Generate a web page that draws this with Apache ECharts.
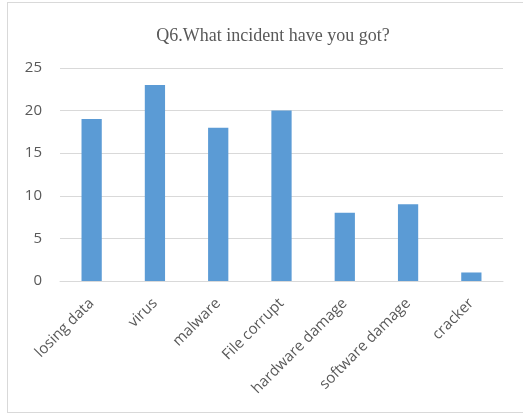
<!DOCTYPE html>
<html>
<head>
<meta charset="utf-8">
<script src="https://cdn.jsdelivr.net/npm/echarts@6/dist/echarts.min.js"></script>
<style>
  html, body { margin: 0; padding: 0; background: #fff; }
  #frame {
    position: absolute; left: 7px; top: 2px; width: 520px; height: 411px;
    border: 1px solid #d9d9d9; border-right: none; box-sizing: border-box;
  }
  #chart { position: absolute; left: 0; top: 0; width: 523px; height: 415px; }
</style>
</head>
<body>
<div id="frame"></div>
<div id="chart"></div>
<script>
// 类目与数值
const categories = ["losing data", "virus", "malware", "File corrupt", "hardware damage", "software damage", "cracker"];
const counts = [19, 23, 18, 20, 8, 9, 1];

const chart = echarts.init(document.getElementById("chart"));
chart.setOption({
  animation: false,
  title: {
    text: "Q6.What incident have you got?",
    left: 268,
    top: 22,
    textAlign: "center",
    textStyle: {
      fontFamily: "Liberation Serif",
      fontWeight: "normal",
      fontSize: 18,
      color: "#595959",
    },
  },
  grid: { left: 60, right: 20, top: 68, bottom: 134 },
  xAxis: {
    type: "category",
    data: categories,
    axisLine: { lineStyle: { color: "#d9d9d9", width: 1 } },
    axisTick: { show: false },
    axisLabel: {
      rotate: 45,
      interval: 0,
      margin: 20,
      color: "#595959",
      fontFamily: "Open Sans",
      fontSize: 15,
    },
  },
  yAxis: {
    type: "value",
    min: 0,
    max: 25,
    interval: 5,
    axisLine: { show: false },
    axisTick: { show: false },
    splitLine: { lineStyle: { color: "#d9d9d9", width: 1 } },
    axisLabel: {
      margin: 18,
      color: "#595959",
      fontFamily: "Open Sans",
      fontSize: 15,
    },
  },
  series: [
    {
      type: "bar",
      data: counts,
      barWidth: "32%",
      itemStyle: { color: "#5b9bd5" },
    },
  ],
});
</script>
</body>
</html>
